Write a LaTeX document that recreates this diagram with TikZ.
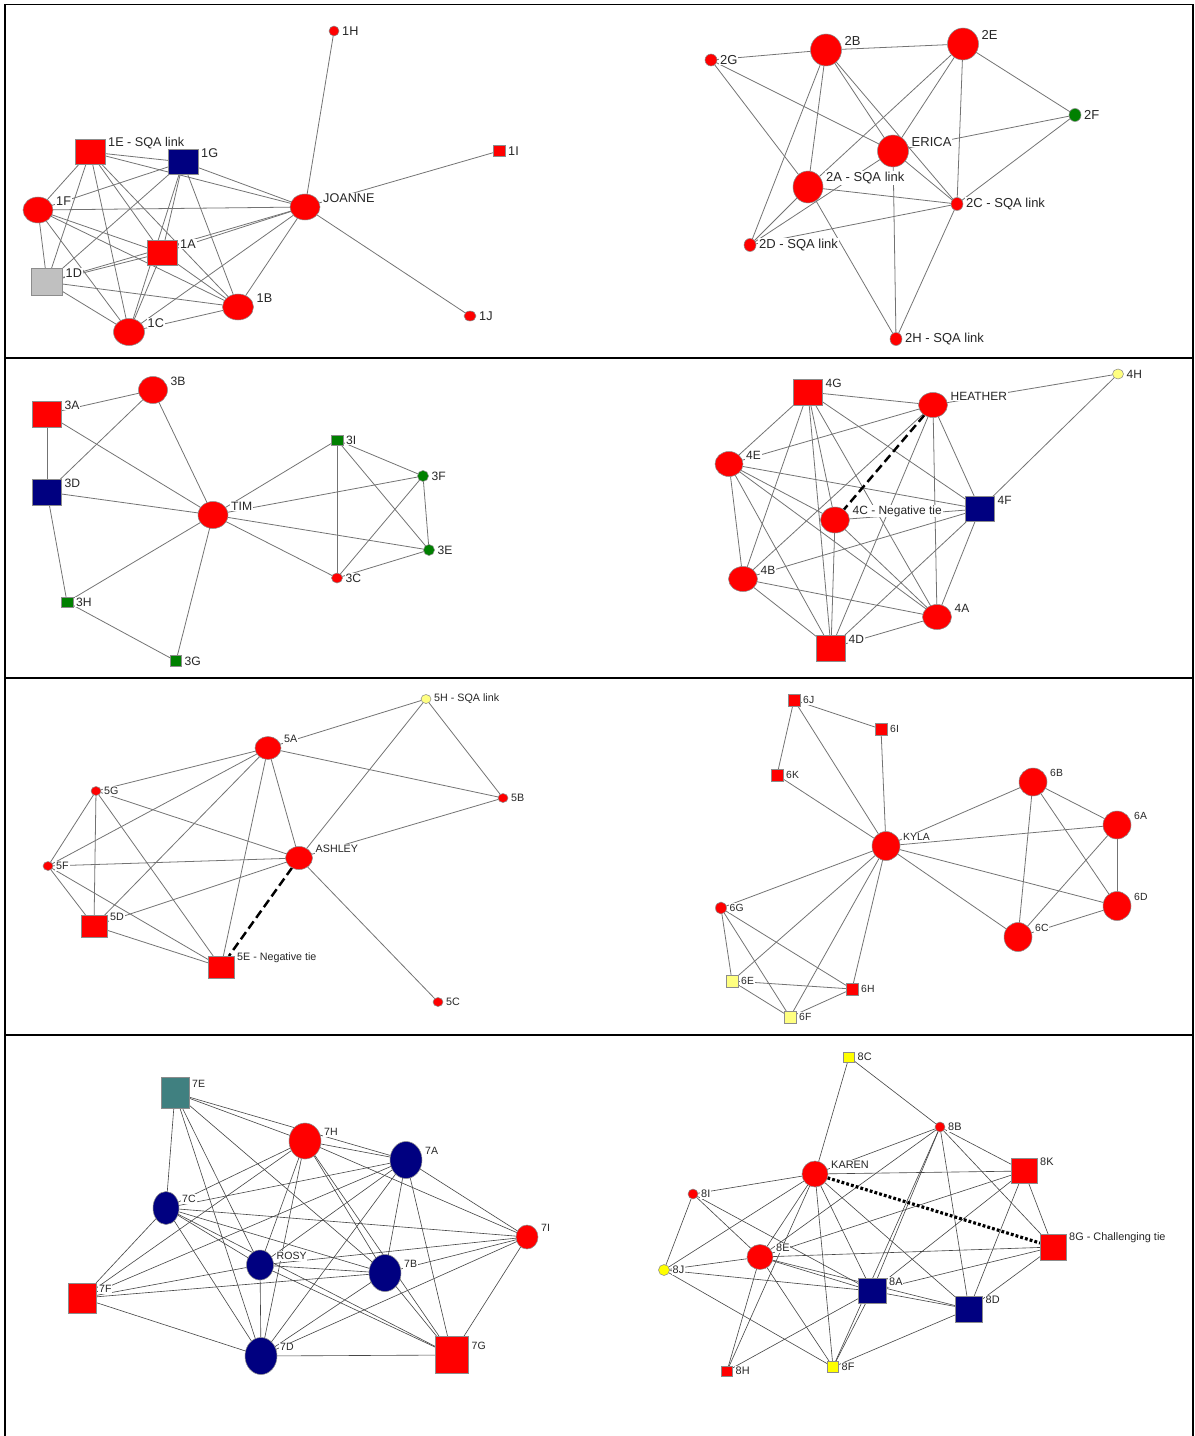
\documentclass[tikz,border=0pt]{standalone}
\usepackage{fontspec}
\setmainfont{Liberation Sans}
\usetikzlibrary{shapes.geometric,backgrounds}

\definecolor{actred}{RGB}{255,0,0}
\definecolor{actnavy}{RGB}{0,0,128}
\definecolor{actgrey}{RGB}{192,192,192}
\definecolor{actgreen}{RGB}{0,128,0}
\definecolor{actpale}{RGB}{255,255,128}
\definecolor{actyellow}{RGB}{255,255,0}
\definecolor{actteal}{RGB}{64,128,128}

\tikzset{
  actor/.style={draw=black!45,line width=0.3pt,inner sep=0pt,outer sep=0pt},
  oval/.style 2 args={actor,ellipse,minimum width=#1*0.02cm,minimum height=#2*0.02cm},
  box/.style 2 args={actor,rectangle,minimum width=#1*0.02cm,minimum height=#2*0.02cm},
  lbl/.style={anchor=west,fill=white,inner sep=0.5pt,xshift=0.04cm,text=black!85},
  lb/.style={label={[lbl]east:#1}},
  lbu/.style={label={[lbl,yshift=0.18cm]east:#1}},
  tie/.style={draw=black!55,line width=0.45pt},
  negtie/.style={draw=black,line width=1.4pt,dash pattern=on 5pt off 2.5pt},
  chaltie/.style={draw=black,line width=1.8pt,dash pattern=on 1.6pt off 1.2pt},
  panelrule/.style={draw=black,line width=1.1pt}
}

\begin{document}
\begin{tikzpicture}[x=0.02cm,y=-0.02cm]
\useasboundingbox (0,0) rectangle (1194,1436);
\begin{scope}[on background layer]
\fill[white] (0,0) rectangle (1194,1436);
\end{scope}

% panel frame
\draw[panelrule] (5,1436) -- (5,4.5) -- (1193,4.5);
\draw[panelrule,line width=0.7pt] (1193,4.5) -- (1193,1436);
\draw[panelrule] (5,358) -- (1193,358);
\draw[panelrule] (5,678) -- (1193,678);
\draw[panelrule] (5,1035) -- (1193,1035);

% group 1
\begin{scope}[every label/.append style={font=\fontsize{7.2}{8}\selectfont}]
\node[oval={10}{10},fill=actred,lb=1H] (n1H) at (334,31) {};
\node[box={12}{11},fill=actred,lb=1I] (n1I) at (499,151) {};
\node[oval={30}{26},fill=actred,lbu=JOANNE] (joanne) at (305,207) {};
\node[oval={12}{10},fill=actred,lb=1J] (n1J) at (470,316) {};
\node[box={30}{25},fill=actred,lbu=1E - SQA link] (n1E) at (90,152) {};
\node[box={30}{25},fill=actnavy,lbu=1G] (n1G) at (183,162) {};
\node[oval={30}{26},fill=actred,lbu=1F] (n1F) at (38,210) {};
\node[box={30}{25},fill=actred,lbu=1A] (n1A) at (162,253) {};
\node[box={31}{27},fill=actgrey,lbu=1D] (n1D) at (47,282) {};
\node[oval={31}{26},fill=actred,lbu=1B] (n1B) at (238,307) {};
\node[oval={31}{27},fill=actred,lbu=1C] (n1C) at (129,332) {};
\end{scope}
\begin{scope}[on background layer]
\foreach \a/\b in {n1H/joanne,n1I/joanne,joanne/n1J,n1E/n1G,n1E/joanne,n1G/joanne,
  n1F/joanne,n1F/n1G,n1E/n1F,n1E/n1D,n1E/n1C,n1E/n1A,n1E/n1B,n1G/n1D,n1G/n1A,
  n1G/n1C,n1G/n1B,n1F/n1D,n1F/n1A,n1F/n1B,n1F/n1C,n1D/n1A,n1D/joanne,n1A/joanne,
  n1D/n1B,n1D/n1C,n1A/n1C,n1A/n1B,n1C/n1B,n1C/joanne,n1B/joanne}
  \draw[tie] (\a) -- (\b);
\end{scope}

% group 2
\begin{scope}[every label/.append style={font=\fontsize{7.4}{8}\selectfont}]
\node[oval={12}{12},fill=actred,lb=2G] (n2G) at (711,60) {};
\node[oval={31}{32},fill=actred,lbu=2B] (n2B) at (826,50) {};
\node[oval={31}{32},fill=actred,lbu=2E] (n2E) at (963,44) {};
\node[oval={12}{13},fill=actgreen,lb=2F] (n2F) at (1075,115) {};
\node[oval={31}{32},fill=actred,lbu=ERICA] (erica) at (893,151) {};
\node[oval={30}{32},fill=actred,lbu=2A - SQA link] (n2A) at (808,187) {};
\node[oval={12}{13},fill=actred,lb=2C - SQA link] (n2C) at (957,204) {};
\node[oval={12}{13},fill=actred,lb=2D - SQA link] (n2D) at (750,245) {};
\node[oval={12}{13},fill=actred,lb=2H - SQA link] (n2H) at (896,339) {};
\end{scope}
\begin{scope}[on background layer]
\foreach \a/\b in {n2G/n2B,n2B/n2E,n2E/n2F,n2G/erica,n2G/n2A,n2B/n2D,n2B/n2A,
  n2B/erica,n2B/n2C,n2E/n2A,n2E/erica,n2E/n2C,erica/n2F,n2F/n2C,erica/n2C,
  erica/n2D,n2A/n2D,n2A/n2C,n2D/n2C,n2A/n2H,erica/n2H,n2C/n2H}
  \draw[tie] (\a) -- (\b);
\end{scope}

% group 3
\begin{scope}[every label/.append style={font=\fontsize{6.9}{7.5}\selectfont}]
\node[box={29}{26},fill=actred,lbu=3A] (n3A) at (47,414) {};
\node[oval={29}{27},fill=actred,lbu=3B] (n3B) at (153,390) {};
\node[box={29}{26},fill=actnavy,lbu=3D] (n3D) at (47,492) {};
\node[oval={30}{27},fill=actred,lbu=TIM] (tim) at (213,515) {};
\node[box={12}{10},fill=actgreen,lb=3I] (n3I) at (337,440) {};
\node[oval={11}{11},fill=actgreen,lb=3F] (n3F) at (423,476) {};
\node[oval={11}{11},fill=actgreen,lb=3E] (n3E) at (429,550) {};
\node[oval={11}{10},fill=actred,lb=3C] (n3C) at (337,578) {};
\node[box={12}{10},fill=actgreen,lb=3H] (n3H) at (67,602) {};
\node[box={11}{11},fill=actgreen,lb=3G] (n3G) at (176,661) {};
\end{scope}
\begin{scope}[on background layer]
\foreach \a/\b in {n3A/n3B,n3A/n3D,n3A/tim,n3B/n3D,n3B/tim,n3D/tim,n3D/n3H,
  n3H/tim,n3H/n3G,n3G/tim,tim/n3I,tim/n3F,tim/n3E,tim/n3C,n3I/n3F,n3I/n3C,
  n3I/n3E,n3F/n3C,n3F/n3E,n3C/n3E}
  \draw[tie] (\a) -- (\b);
\end{scope}

% group 4
\begin{scope}[every label/.append style={font=\fontsize{6.8}{7.5}\selectfont}]
\node[box={29}{26},fill=actred,lbu=4G] (n4G) at (808,392) {};
\node[oval={29}{25},fill=actred,lbu=HEATHER] (heather) at (933,405) {};
\node[oval={11}{10},fill=actpale,lb=4H] (n4H) at (1118,374) {};
\node[oval={28}{25},fill=actred,lbu=4E] (n4E) at (729,464) {};
\node[box={29}{25},fill=actnavy,lbu=4F] (n4F) at (980,509) {};
\node[oval={29}{26},fill=actred,lbu=4C - Negative tie] (n4C) at (835,520) {};
\node[oval={29}{25},fill=actred,lbu=4B] (n4B) at (743,579) {};
\node[oval={29}{25},fill=actred,lbu=4A] (n4A) at (937,617) {};
\node[box={29}{26},fill=actred,lbu=4D] (n4D) at (831,648) {};
\end{scope}
\begin{scope}[on background layer]
\foreach \a/\b in {n4G/heather,n4G/n4E,n4G/n4B,n4G/n4C,n4G/n4D,n4G/n4A,n4G/n4F,
  heather/n4H,heather/n4E,heather/n4B,heather/n4D,heather/n4A,heather/n4F,
  n4H/n4F,n4E/n4F,n4E/n4C,n4E/n4B,n4E/n4D,n4E/n4A,n4C/n4F,n4C/n4D,n4C/n4A,
  n4B/n4F,n4B/n4A,n4B/n4D,n4F/n4D,n4F/n4A,n4D/n4A}
  \draw[tie] (\a) -- (\b);
\draw[negtie] (heather) -- (n4C);
\end{scope}

% group 5
\begin{scope}[every label/.append style={font=\fontsize{6.1}{7}\selectfont}]
\node[oval={10}{9},fill=actpale,lb=5H - SQA link] (n5H) at (426,699) {};
\node[oval={26}{23},fill=actred,lbu=5A] (n5A) at (268,748) {};
\node[oval={10}{9},fill=actred,lb=5G] (n5G) at (96,791) {};
\node[oval={10}{9},fill=actred,lb=5B] (n5B) at (503,798) {};
\node[oval={27}{23},fill=actred,lbu=ASHLEY] (ashley) at (299,858) {};
\node[oval={10}{9},fill=actred,lb=5F] (n5F) at (48,866) {};
\node[box={26}{22},fill=actred,lbu=5D] (n5D) at (94,926) {};
\node[box={26}{22},fill=actred,lbu=5E - Negative tie] (n5E) at (221,967) {};
\node[oval={10}{9},fill=actred,lb=5C] (n5C) at (438,1002) {};
\end{scope}
\begin{scope}[on background layer]
\foreach \a/\b in {n5H/n5A,n5H/ashley,n5H/n5B,n5A/n5B,n5A/n5G,n5A/n5F,n5A/n5D,
  n5A/n5E,n5A/ashley,n5G/ashley,n5G/n5F,n5G/n5D,n5G/n5E,n5F/ashley,n5F/n5D,
  n5F/n5E,n5D/ashley,n5D/n5E,ashley/n5B,ashley/n5C}
  \draw[tie] (\a) -- (\b);
\draw[negtie] (ashley) -- (n5E);
\end{scope}

% group 6
\begin{scope}[every label/.append style={font=\fontsize{5.9}{6.5}\selectfont}]
\node[box={12}{12},fill=actred,lb=6J] (n6J) at (794,700) {};
\node[box={12}{12},fill=actred,lb=6I] (n6I) at (881,729) {};
\node[box={12}{12},fill=actred,lb=6K] (n6K) at (777,775) {};
\node[oval={28}{29},fill=actred,lbu=KYLA] (kyla) at (886,846) {};
\node[oval={28}{28},fill=actred,lbu=6B] (n6B) at (1033,782) {};
\node[oval={28}{28},fill=actred,lbu=6A] (n6A) at (1117,825) {};
\node[oval={28}{29},fill=actred,lbu=6D] (n6D) at (1117,906) {};
\node[oval={28}{29},fill=actred,lbu=6C] (n6C) at (1018,937) {};
\node[oval={11}{12},fill=actred,lb=6G] (n6G) at (721,908) {};
\node[box={12}{12},fill=actpale,lb=6E] (n6E) at (732,981) {};
\node[box={12}{12},fill=actred,lb=6H] (n6H) at (852,989) {};
\node[box={12}{12},fill=actpale,lb=6F] (n6F) at (790,1017) {};
\end{scope}
\begin{scope}[on background layer]
\foreach \a/\b in {n6J/n6I,n6J/n6K,n6J/kyla,n6I/kyla,n6K/kyla,kyla/n6B,kyla/n6A,
  kyla/n6D,kyla/n6C,kyla/n6G,kyla/n6E,kyla/n6F,kyla/n6H,n6B/n6A,n6B/n6D,n6B/n6C,
  n6A/n6D,n6A/n6C,n6C/n6D,n6G/n6E,n6G/n6F,n6G/n6H,n6E/n6H,n6E/n6F,n6F/n6H}
  \draw[tie] (\a) -- (\b);
\end{scope}

% group 7
\begin{scope}[every label/.append style={font=\fontsize{6}{7}\selectfont}]
\node[box={28}{31},fill=actteal,lbu=7E] (n7E) at (175,1093) {};
\node[oval={32}{36},fill=actred,lbu=7H] (n7H) at (305,1141) {};
\node[oval={32}{37},fill=actnavy,lbu=7A] (n7A) at (406,1160) {};
\node[oval={26}{33},fill=actnavy,lbu=7C] (n7C) at (166,1208) {};
\node[oval={22}{24},fill=actred,lbu=7I] (n7I) at (527,1237) {};
\node[oval={27}{30},fill=actnavy,lbu=ROSY] (rosy) at (260,1265) {};
\node[oval={32}{37},fill=actnavy,lbu=7B] (n7B) at (385,1273) {};
\node[box={28}{30},fill=actred,lbu=7F] (n7F) at (82,1298) {};
\node[oval={32}{37},fill=actnavy,lbu=7D] (n7D) at (261,1356) {};
\node[box={33}{37},fill=actred,lbu=7G] (n7G) at (452,1355) {};
\end{scope}
\begin{scope}[on background layer,tie/.append style={draw=black!72,line width=0.35pt}]
\foreach \a/\b in {n7E/n7H,n7E/n7A,n7E/n7C,n7E/n7D,n7E/rosy,n7E/n7B,n7H/n7A,
  n7H/n7C,n7H/n7F,n7H/rosy,n7H/n7B,n7H/n7G,n7H/n7I,n7H/n7D,n7A/n7C,n7A/rosy,
  n7A/n7B,n7A/n7D,n7A/n7F,n7A/n7G,n7A/n7I,n7C/n7I,n7C/rosy,n7C/n7B,n7C/n7G,
  n7C/n7F,n7C/n7D,rosy/n7I,rosy/n7B,rosy/n7F,rosy/n7D,rosy/n7G,n7B/n7F,n7B/n7D,
  n7B/n7G,n7B/n7I,n7F/n7D,n7D/n7G,n7D/n7I,n7G/n7I}
  \draw[tie] (\a) -- (\b);
\end{scope}

% group 8
\begin{scope}[every label/.append style={font=\fontsize{6.2}{7}\selectfont}]
\node[box={11}{10},fill=actyellow,lb=8C] (n8C) at (849,1057) {};
\node[oval={10}{10},fill=actred,lb=8B] (n8B) at (940,1127) {};
\node[oval={26}{26},fill=actred,lbu=KAREN] (karen) at (815,1174) {};
\node[box={26}{25},fill=actred,lbu=8K] (n8K) at (1024,1171) {};
\node[oval={10}{10},fill=actred,lb=8I] (n8I) at (693,1194) {};
\node[oval={26}{25},fill=actred,lbu=8E] (n8E) at (760,1257) {};
\node[box={26}{26},fill=actred,lbu=8G - Challenging tie] (n8G) at (1053,1247) {};
\node[oval={11}{11},fill=actyellow,lb=8J] (n8J) at (664,1270) {};
\node[box={28}{25},fill=actnavy,lbu=8A] (n8A) at (872,1291) {};
\node[box={27}{26},fill=actnavy,lbu=8D] (n8D) at (969,1309) {};
\node[box={11}{10},fill=actred,lb=8H] (n8H) at (727,1371) {};
\node[box={11}{11},fill=actyellow,lb=8F] (n8F) at (833,1367) {};
\end{scope}
\begin{scope}[on background layer,tie/.append style={draw=black!72,line width=0.35pt}]
\foreach \a/\b in {n8C/karen,n8C/n8B,n8B/karen,n8B/n8K,n8B/n8E,n8B/n8A,n8B/n8F,
  n8B/n8D,n8B/n8G,karen/n8K,karen/n8I,karen/n8J,karen/n8E,karen/n8H,karen/n8F,
  karen/n8A,karen/n8D,n8K/n8E,n8K/n8G,n8K/n8A,n8K/n8D,n8I/n8J,n8I/n8E,n8I/n8A,
  n8E/n8G,n8E/n8J,n8E/n8A,n8E/n8D,n8E/n8H,n8E/n8F,n8J/n8A,n8J/n8F,n8A/n8G,
  n8A/n8D,n8A/n8F,n8A/n8H,n8D/n8G,n8D/n8F}
  \draw[tie] (\a) -- (\b);
\draw[chaltie] (karen) -- (n8G);
\end{scope}
\end{tikzpicture}
\end{document}
